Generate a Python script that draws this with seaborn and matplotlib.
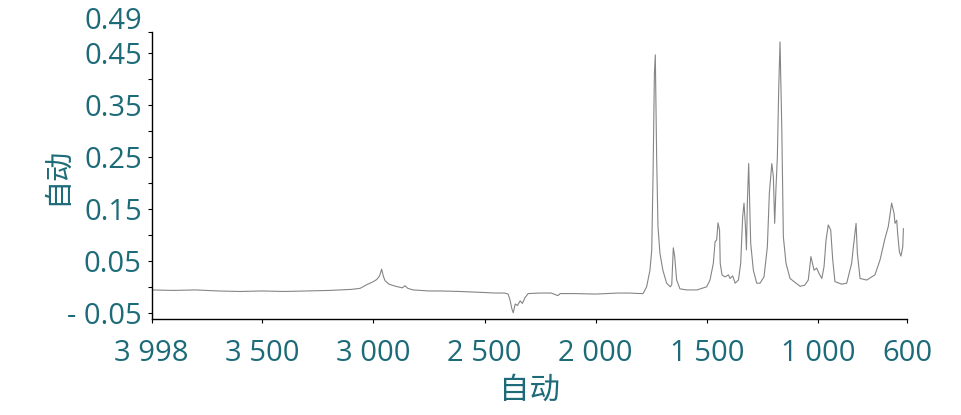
import numpy as np
import pandas as pd
import matplotlib
matplotlib.use('Agg')
import matplotlib.pyplot as plt
import seaborn as sns

# spectrum (wavenumber in cm-1, absorbance)
wavenumber = [
    3998, 3900, 3800, 3700, 3600, 3500, 3400, 3300, 3200, 3150, 3100, 3060,
    3030, 3000, 2985, 2972, 2963, 2955, 2948, 2930, 2900, 2870, 2858, 2845,
    2822, 2750, 2700, 2610, 2560, 2500, 2453, 2410, 2394, 2385, 2378, 2371,
    2362, 2352, 2340, 2330, 2318, 2304, 2250, 2200, 2170, 2160, 2100, 2000,
    1950, 1900, 1850, 1800, 1787, 1771, 1756, 1748, 1742, 1736, 1732, 1726,
    1720, 1711, 1698, 1681, 1665, 1658, 1651, 1645, 1636, 1621, 1591, 1544,
    1501, 1486, 1471, 1463, 1456, 1450, 1443, 1440, 1432, 1418, 1403, 1396,
    1384, 1373, 1358, 1348, 1339, 1333, 1327, 1322, 1318, 1312, 1307, 1303,
    1291, 1276, 1261, 1243, 1228, 1219, 1208, 1201, 1195, 1189, 1183, 1177,
    1171, 1163, 1156, 1144, 1126, 1096, 1081, 1060, 1044, 1032, 1018, 1006,
    996, 983, 973, 964, 954, 943, 934, 924, 893, 871, 849, 841,
    829, 823, 811, 781, 744, 721, 699, 684, 669, 658, 654, 646,
    642, 634, 627, 619, 616,
]
absorbance = [
    -0.005, -0.006, -0.005, -0.007, -0.008, -0.007, -0.008, -0.007, -0.006, -0.005, -0.004, -0.002,
    0.005, 0.011, 0.015, 0.022, 0.035, 0.021, 0.013, 0.006, 0.002, -0.001, 0.003, -0.002,
    -0.005, -0.007, -0.007, -0.008, -0.009, -0.010, -0.011, -0.011, -0.013, -0.025, -0.040, -0.049,
    -0.032, -0.035, -0.026, -0.031, -0.020, -0.012, -0.011, -0.011, -0.016, -0.012, -0.012, -0.013,
    -0.012, -0.011, -0.011, -0.012, -0.012, 0.001, 0.033, 0.072, 0.220, 0.412, 0.447, 0.251,
    0.117, 0.065, 0.033, 0.008, 0.001, 0.005, 0.076, 0.060, 0.014, -0.003, -0.005, -0.005,
    0.001, 0.014, 0.046, 0.088, 0.091, 0.124, 0.110, 0.046, 0.024, 0.020, 0.024, 0.017,
    0.022, 0.008, 0.014, 0.046, 0.136, 0.162, 0.120, 0.072, 0.162, 0.238, 0.155, 0.085,
    0.033, 0.008, 0.008, 0.020, 0.078, 0.181, 0.238, 0.213, 0.123, 0.193, 0.251, 0.380,
    0.472, 0.303, 0.097, 0.046, 0.017, 0.007, 0.002, 0.004, 0.014, 0.059, 0.033, 0.037,
    0.027, 0.017, 0.040, 0.091, 0.120, 0.110, 0.053, 0.011, 0.006, 0.008, 0.046, 0.078,
    0.123, 0.065, 0.017, 0.014, 0.024, 0.053, 0.094, 0.117, 0.162, 0.142, 0.123, 0.129,
    0.104, 0.068, 0.060, 0.078, 0.113,
]

x_ticks = [3998, 3500, 3000, 2500, 2000, 1500, 1000, 600]
x_tick_labels = ['3 998', '3 500', '3 000', '2 500', '2 000', '1 500', '1 000', '600']
y_ticks = [0.49, 0.45, 0.35, 0.25, 0.15, 0.05, -0.05]
y_tick_labels = ['', '0.45', '0.35', '0.25', '0.15', '0.05', '- 0.05']
y_top_label = '0.49'
y_minor = [0.40, 0.30, 0.20, 0.10, 0.00]
axis_label = '自动'

df = pd.DataFrame({'wavenumber': wavenumber, 'absorbance': absorbance})

sns.set_style('ticks')
plt.rcParams['font.family'] = ['Open Sans', 'Noto Sans CJK SC', 'DejaVu Sans']
text_color = '#1d6b79'

fig = plt.figure(figsize=(9.62, 4.15), dpi=100)
ax = fig.add_axes([0.1575, 0.2306, 0.7853, 0.6911])

sns.lineplot(data=df, x='wavenumber', y='absorbance', estimator=None,
             color='#858585', linewidth=0.8, ax=ax)

ax.set_xlim(3998, 600)
ax.set_ylim(-0.0615, 0.49)
ax.set_xticks(x_ticks)
ax.set_xticklabels(x_tick_labels)
ax.set_yticks(y_ticks)
ax.set_yticklabels(y_tick_labels)
ax.set_yticks(y_minor, minor=True)

ax.tick_params(axis='both', which='both', direction='out', length=3, width=0.8,
               color='black', labelcolor=text_color, labelsize=21)
ax.tick_params(axis='x', pad=11)
ax.tick_params(axis='y', pad=4)

# top label sits a little above its tick in the original
ax.annotate(y_top_label, xy=(0, y_ticks[0]), xycoords=('axes fraction', 'data'),
            xytext=(-7, 8), textcoords='offset points', ha='right', va='center',
            fontsize=21, color=text_color)

ax.set_xlabel(axis_label, fontsize=22, color=text_color, labelpad=6)
ax.set_ylabel(axis_label, fontsize=21, color=text_color)
ax.yaxis.set_label_coords(-0.105, 0.5)

sns.despine(ax=ax)
for s in ['left', 'bottom']:
    ax.spines[s].set_color('black')
    ax.spines[s].set_linewidth(1.0)

fig.savefig('out.png', dpi=100)
plt.close(fig)
